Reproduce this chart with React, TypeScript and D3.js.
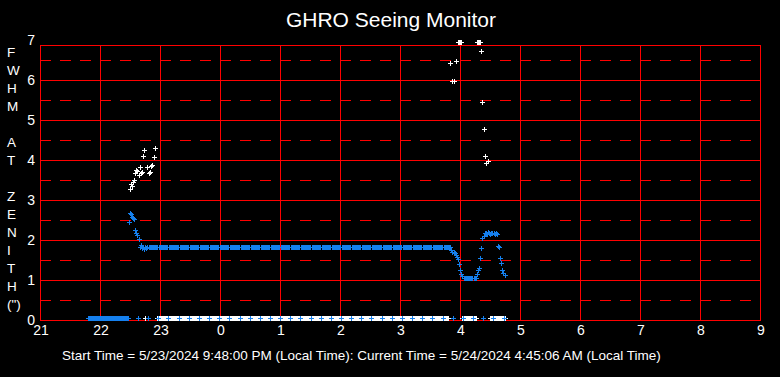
import React from "react";
import * as d3 from "d3";

// ---------- DATA ----------
const chartTitle = "GHRO Seeing Monitor";
const footerText =
  "Start Time = 5/23/2024 9:48:00 PM (Local Time): Current Time = 5/24/2024 4:45:06 AM (Local Time)";
const yTitleRows = ["F", "W", "H", "M", "", "A", "T", "", "Z", "E", "N", "I", "T", "H", "(\")"];
const xTickHours = [21, 22, 23, 24, 25, 26, 27, 28, 29, 30, 31, 32, 33];
const xTickLabels = ["21", "22", "23", "0", "1", "2", "3", "4", "5", "6", "7", "8", "9"];
const yTickValues = [0, 1, 2, 3, 4, 5, 6, 7];
const yDashValues = [0.5, 1.5, 2.5, 3.5, 4.5, 5.5, 6.5];

// first sample 21:48 local, one sample per minute
const firstSampleMinute = 21 * 60 + 48;

// blue series (one value per minute, rows start at the time in the comment)
const blueSeries: (number | null)[] = [
  0.04, 0.04, // 21:48
  0.04, 0.04, 0.04, 0.04, 0.04, 0.04, 0.04, 0.04, 0.04, 0.04, // 21:50
  0.04, 0.04, 0.04, 0.04, 0.04, 0.04, 0.04, 0.04, 0.04, 0.04, // 22:00
  0.04, 0.04, 0.04, 0.04, 0.04, 0.04, 0.04, 0.04, 0.04, 0.04, // 22:10
  0.04, 0.04, 0.04, 0.04, 0.04, 0.04, 0.04, 0.04, 0.04, 2.44, // 22:20
  2.67, 2.65, 2.58, 2.55, 2.52, 2.25, 2.17, 2.12, 0.04, 2.02, // 22:30
  1.83, 1.88, 1.80, 1.82, 1.78, 1.82, 1.79, 1.82, 0.04, 1.82, // 22:40
  1.82, 1.82, 1.82, 1.82, 1.82, 1.82, 1.82, 1.82, 0.04, 1.82, // 22:50
  1.82, 1.82, 1.82, 1.82, 1.82, 1.82, 1.82, 1.82, 0.04, 1.82, // 23:00
  1.82, 1.82, 1.82, 1.82, 1.82, 1.82, 1.82, 1.82, 1.82, 0.04, // 23:10
  1.82, 1.82, 1.82, 1.82, 1.82, 1.82, 1.82, 1.82, 1.82, 0.04, // 23:20
  1.82, 1.82, 1.82, 1.82, 1.82, 1.82, 1.82, 1.82, 1.82, 0.04, // 23:30
  1.82, 1.82, 1.82, 1.82, 1.82, 1.82, 1.82, 1.82, 1.82, 0.04, // 23:40
  1.82, 1.82, 1.82, 1.82, 1.82, 1.82, 1.82, 1.82, 1.82, 0.04, // 23:50
  1.82, 1.82, 1.82, 1.82, 1.82, 1.82, 1.82, 1.82, 1.82, 0.04, // 0:00
  1.82, 1.82, 1.82, 1.82, 1.82, 1.82, 1.82, 1.82, 1.82, 1.82, // 0:10
  0.04, 1.82, 1.82, 1.82, 1.82, 1.82, 1.82, 1.82, 1.82, 1.82, // 0:20
  0.04, 1.82, 1.82, 1.82, 1.82, 1.82, 1.82, 1.82, 1.82, 1.82, // 0:30
  0.04, 1.82, 1.82, 1.82, 1.82, 1.82, 1.82, 1.82, 1.82, 1.82, // 0:40
  0.04, 1.82, 1.82, 1.82, 1.82, 1.82, 1.82, 1.82, 1.82, 1.82, // 0:50
  0.04, 1.82, 1.82, 1.82, 1.82, 1.82, 1.82, 1.82, 1.82, 1.82, // 1:00
  0.04, 1.82, 1.82, 1.82, 1.82, 1.82, 1.82, 1.82, 1.82, 1.82, // 1:10
  0.04, 1.82, 1.82, 1.82, 1.82, 1.82, 1.82, 1.82, 1.82, 1.82, // 1:20
  1.82, 0.04, 1.82, 1.82, 1.82, 1.82, 1.82, 1.82, 1.82, 1.82, // 1:30
  1.82, 0.04, 1.82, 1.82, 1.82, 1.82, 1.82, 1.82, 1.82, 1.82, // 1:40
  1.82, 0.04, 1.82, 1.82, 1.82, 1.82, 1.82, 1.82, 1.82, 1.82, // 1:50
  1.82, 0.04, 1.82, 1.82, 1.82, 1.82, 1.82, 1.82, 1.82, 1.82, // 2:00
  1.82, 0.04, 1.82, 1.82, 1.82, 1.82, 1.82, 1.82, 1.82, 1.82, // 2:10
  1.82, 0.04, 1.82, 1.82, 1.82, 1.82, 1.82, 1.82, 1.82, 1.82, // 2:20
  1.82, 0.04, 1.82, 1.82, 1.82, 1.82, 1.82, 1.82, 1.82, 1.82, // 2:30
  1.82, 1.82, 0.04, 1.82, 1.82, 1.82, 1.82, 1.82, 1.82, 1.82, // 2:40
  1.82, 1.82, 0.04, 1.82, 1.82, 1.82, 1.82, 1.82, 1.82, 1.82, // 2:50
  1.82, 1.82, 0.04, 1.82, 1.82, 1.82, 1.82, 1.82, 1.82, 1.82, // 3:00
  1.82, 1.82, 0.04, 1.82, 1.82, 1.82, 1.82, 1.82, 1.82, 1.82, // 3:10
  1.82, 1.82, 0.04, 1.82, 1.82, 1.82, 1.82, 1.82, 1.82, 1.82, // 3:20
  1.82, 1.82, 0.04, 1.82, 1.82, 1.82, 1.82, 1.82, 1.82, 1.82, // 3:30
  1.82, 1.82, 1.82, 0.04, 1.82, 1.82, 1.82, 1.82, 1.82, 1.82, // 3:40
  1.82, 1.75, 1.71, 0.04, 1.69, 1.67, 1.62, 1.58, 1.52, 1.40, // 3:50
  1.25, 1.15, 1.10, 0.04, 1.06, 1.04, 1.04, 1.04, 1.04, 1.04, // 4:00
  1.04, 1.04, 1.04, 0.04, 1.04, 1.04, 1.06, 1.16, 1.25, 1.31, // 4:10
  1.54, 1.79, 2.04, 0.04, 2.10, 2.18, 2.17, 2.15, 2.19, 2.17, // 4:20
  2.16, 2.18, 2.17, 0.04, 2.18, 2.16, 2.17, 2.16, 1.85, 1.82, // 4:30
  1.54, 1.42, 1.25, 1.18, 0.04, 1.12, // 4:40
];

// white series (one value per minute, same timing; null = no point)
const whiteSeries: (number | null)[] = [
  null, null, // 21:48
  null, null, null, null, null, null, null, null, null, null, // 21:50
  null, null, null, null, null, null, null, null, null, null, // 22:00
  null, null, null, null, null, null, null, null, null, null, // 22:10
  null, null, null, null, null, null, null, null, null, null, // 22:20
  3.27, 3.40, 3.35, 3.46, 3.50, 3.67, 3.75, 3.73, null, 3.63, // 22:30
  3.83, 3.68, 3.71, 4.10, 4.25, 0.04, null, 3.82, null, 3.67, // 22:40
  3.71, 3.85, 3.88, null, 4.07, 4.29, null, 0.04, null, 0.04, // 22:50
  0.04, 0.04, 0.04, 0.04, 0.04, 0.04, 0.04, 0.04, null, 0.04, // 23:00
  0.04, 0.04, 0.04, 0.04, 0.04, 0.04, 0.04, 0.04, 0.04, null, // 23:10
  0.04, 0.04, 0.04, 0.04, 0.04, 0.04, 0.04, 0.04, 0.04, null, // 23:20
  0.04, 0.04, 0.04, 0.04, 0.04, 0.04, 0.04, 0.04, 0.04, null, // 23:30
  0.04, 0.04, 0.04, 0.04, 0.04, 0.04, 0.04, 0.04, 0.04, null, // 23:40
  0.04, 0.04, 0.04, 0.04, 0.04, 0.04, 0.04, 0.04, 0.04, null, // 23:50
  0.04, 0.04, 0.04, 0.04, 0.04, 0.04, 0.04, 0.04, 0.04, null, // 0:00
  0.04, 0.04, 0.04, 0.04, 0.04, 0.04, 0.04, 0.04, 0.04, 0.04, // 0:10
  null, 0.04, 0.04, 0.04, 0.04, 0.04, 0.04, 0.04, 0.04, 0.04, // 0:20
  null, 0.04, 0.04, 0.04, 0.04, 0.04, 0.04, 0.04, 0.04, 0.04, // 0:30
  null, 0.04, 0.04, 0.04, 0.04, 0.04, 0.04, 0.04, 0.04, 0.04, // 0:40
  null, 0.04, 0.04, 0.04, 0.04, 0.04, 0.04, 0.04, 0.04, 0.04, // 0:50
  null, 0.04, 0.04, 0.04, 0.04, 0.04, 0.04, 0.04, 0.04, 0.04, // 1:00
  null, 0.04, 0.04, 0.04, 0.04, 0.04, 0.04, 0.04, 0.04, 0.04, // 1:10
  null, 0.04, 0.04, 0.04, 0.04, 0.04, 0.04, 0.04, 0.04, 0.04, // 1:20
  0.04, null, 0.04, 0.04, 0.04, 0.04, 0.04, 0.04, 0.04, 0.04, // 1:30
  0.04, null, 0.04, 0.04, 0.04, 0.04, 0.04, 0.04, 0.04, 0.04, // 1:40
  0.04, null, 0.04, 0.04, 0.04, 0.04, 0.04, 0.04, 0.04, 0.04, // 1:50
  0.04, null, 0.04, 0.04, 0.04, 0.04, 0.04, 0.04, 0.04, 0.04, // 2:00
  0.04, null, 0.04, 0.04, 0.04, 0.04, 0.04, 0.04, 0.04, 0.04, // 2:10
  0.04, null, 0.04, 0.04, 0.04, 0.04, 0.04, 0.04, 0.04, 0.04, // 2:20
  0.04, null, 0.04, 0.04, 0.04, 0.04, 0.04, 0.04, 0.04, 0.04, // 2:30
  0.04, 0.04, null, 0.04, 0.04, 0.04, 0.04, 0.04, 0.04, 0.04, // 2:40
  0.04, 0.04, null, 0.04, 0.04, 0.04, 0.04, 0.04, 0.04, 0.04, // 2:50
  0.04, 0.04, null, 0.04, 0.04, 0.04, 0.04, 0.04, 0.04, 0.04, // 3:00
  0.04, 0.04, null, 0.04, 0.04, 0.04, 0.04, 0.04, 0.04, 0.04, // 3:10
  0.04, 0.04, null, 0.04, 0.04, 0.04, 0.04, 0.04, 0.04, 0.04, // 3:20
  0.04, 0.04, null, 0.04, 0.04, 0.04, 0.04, 0.04, 0.04, 0.04, // 3:30
  0.04, 0.04, 0.04, null, 0.04, 0.04, 0.04, 0.04, 0.04, null, // 3:40
  6.42, null, 5.97, null, 5.97, null, 6.47, null, 6.94, 6.94, // 3:50
  6.94, 6.94, 0.04, null, 0.04, 0.04, 0.04, 0.04, 0.04, 0.04, // 4:00
  0.04, 0.04, 0.04, null, 0.04, 0.04, 0.04, 6.94, 6.94, 6.94, // 4:10
  6.94, 6.72, 5.44, null, 4.77, 4.10, 3.92, null, 3.98, null, // 4:20
  0.04, 0.04, 0.04, null, 0.04, 0.04, 0.04, 0.04, 0.04, 0.04, // 4:30
  0.04, 0.04, 0.04, 0.04, null, 0.04, // 4:40
];

// ---------- CHART ----------
const W = 780;
const H = 377;
const FONT = "'Liberation Sans', Arial, sans-serif";
const RED = "#ff0000";
const BLUE = "#1580ee";

const x = d3.scaleLinear().domain([21, 33]).range([40, 760]);
const y = d3.scaleLinear().domain([0, 7]).range([320, 40]);
const yTop = 6.875; // top edge of the frame

const px = (v: number) => Math.round(v) + 0.5;

function markerPath(series: (number | null)[]): string {
  let d = "";
  series.forEach((v, i) => {
    if (v === null || v === undefined) return;
    const hour = (firstSampleMinute + i) / 60;
    const cx = px(x(hour));
    const cy = px(y(v));
    d += `M${cx - 2.5},${cy}h5M${cx},${cy - 2.5}v5`;
  });
  return d;
}

export default function App() {
  const left = px(x(21));
  const right = px(x(33));
  const top = px(y(yTop));
  const bottom = px(y(0));
  return (
    <svg width={W} height={H} style={{ display: "block", position: "absolute", left: 0, top: 0, background: "#000" }}>
      <rect x={0} y={0} width={W} height={H} fill="#000" />
      <text x={W / 2 + 1} y={27} textAnchor="middle" fill="#fff" fontFamily={FONT} fontSize={21}>
        {chartTitle}
      </text>
      <g shapeRendering="crispEdges" stroke={RED} strokeWidth={1} fill="none">
        {yDashValues.map((v) => (
          <line key={"d" + v} x1={x(21)} x2={x(33)} y1={px(y(v))} y2={px(y(v))} strokeDasharray="11 9" />
        ))}
        {yTickValues
          .filter((v) => v > 0 && v < yTop)
          .map((v) => (
            <line key={"h" + v} x1={left} x2={right} y1={px(y(v))} y2={px(y(v))} />
          ))}
        {xTickHours.slice(1, -1).map((h) => (
          <line key={"v" + h} x1={px(x(h))} x2={px(x(h))} y1={top} y2={bottom} />
        ))}
        <rect x={left} y={top} width={right - left} height={bottom - top} />
      </g>
      <g shapeRendering="crispEdges" fill="none" strokeWidth={1}>
        <path d={markerPath(whiteSeries)} stroke="#ffffff" />
        <path d={markerPath(blueSeries)} stroke={BLUE} />
      </g>
      <g fill="#fff" fontFamily={FONT} fontSize={14}>
        {xTickHours.map((h, i) => (
          <text key={"xl" + h} x={x(h) + 1} y={335} textAnchor="middle">
            {xTickLabels[i]}
          </text>
        ))}
        {yTickValues.map((v) => (
          <text key={"yl" + v} x={35} y={y(v) + 5} textAnchor="end">
            {String(v)}
          </text>
        ))}
      </g>
      <g fill="#fff" fontFamily={FONT} fontSize={13.5}>
        {yTitleRows.map((s, i) => (
          <text key={"yt" + i} x={7} y={57 + i * 18}>
            {s}
          </text>
        ))}
        <text x={62} y={360}>
          {footerText}
        </text>
      </g>
    </svg>
  );
}
